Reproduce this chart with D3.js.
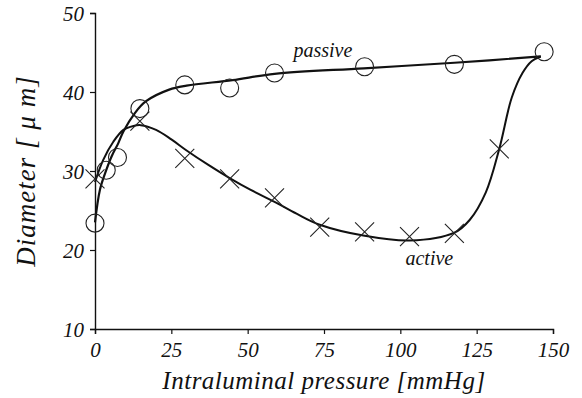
<!DOCTYPE html>
<html>
<head>
<meta charset="utf-8">
<script src="https://cdn.jsdelivr.net/npm/d3@7"></script>
<style>
  body { margin: 0; background: #fff; }
  svg text { font-family: "Liberation Serif", "Times New Roman", serif; font-style: italic; fill: #111; }
</style>
</head>
<body>
<svg id="chart-diameter" width="582" height="398"></svg>
<script>
// measured pressures (mmHg) and vessel diameters (um)
var passiveP = [0, 3.68, 7.36, 14.7, 29.4, 44.1, 58.8, 88.3, 117.7, 147.1];
var passiveD = [23.4, 30.1, 31.7, 37.9, 40.9, 40.5, 42.4, 43.2, 43.5, 45.1];
var activeP = [0, 14.7, 29.4, 44.1, 58.8, 73.6, 88.3, 103, 117.7, 132.4];
var activeD = [29.0, 36.3, 31.6, 29.0, 26.6, 22.9, 22.3, 21.7, 22.1, 32.8];

// fitted curves
var passiveFitP = [0, 1.6, 3.3, 5.5, 7.6, 9.3, 13, 16.6, 24.3, 30, 45, 58.8, 88, 117.7, 146];
var passiveFitD = [23.5, 27.6, 29.7, 31.9, 33.5, 35, 37.3, 38.8, 40.3, 40.8, 41.5, 42.3, 43.0, 43.7, 44.5];
var activeFitP = [0, 2.7, 6, 9.3, 12.6, 15, 20, 25, 30, 37, 44.1, 51, 58.8, 66, 73.6, 88.3, 103, 117.7, 122.7, 128, 132.4, 136.5, 140, 143, 146];
var activeFitD = [28.6, 31.4, 33.7, 35.2, 35.7, 35.8, 35.2, 34.0, 32.6, 30.8, 29.1, 27.6, 26.1, 24.6, 23.2, 21.8, 21.2, 22.2, 23.8, 27.3, 32.8, 39.3, 42.4, 43.9, 44.5];

var xTicks = [0, 25, 50, 75, 100, 125, 150];
var yTicks = [10, 20, 30, 40, 50];

(function diameter() {
    var svg = d3.select("#chart-diameter"),
        margin = {top: 13, right: 29, bottom: 69, left: 95},
        width = +svg.attr("width") - margin.left - margin.right,
        height = +svg.attr("height") - margin.top - margin.bottom,
        g = svg.append("g").attr("transform", "translate(" + margin.left + "," + margin.top + ")");

    var x = d3.scaleLinear().domain([0, 150]).range([0, width]);
    var y = d3.scaleLinear().domain([10, 50]).range([height, 0]);

    var line = d3.line()
        .x(function(d) { return x(d[0]); })
        .y(function(d) { return y(d[1]); })
        .curve(d3.curveCatmullRom.alpha(0.5));

    var xAxis = g.append("g")
        .attr("transform", "translate(0," + height + ")")
        .call(d3.axisBottom(x).tickValues(xTicks).tickSizeOuter(0).tickSize(5).tickPadding(8));

    var yAxis = g.append("g")
        .call(d3.axisLeft(y).tickValues(yTicks).tickSizeOuter(0).tickSize(5).tickPadding(6));

    [xAxis, yAxis].forEach(function(a) {
        a.select(".domain").attr("stroke", "#111").attr("stroke-width", 1.4);
        a.selectAll(".tick line").attr("stroke", "#111").attr("stroke-width", 1.2);
        a.selectAll("text")
            .attr("font-family", null)
            .style("font-size", "21px");
    });
    yAxis.selectAll("text").attr("dy", "0.36em");

    var passiveFit = d3.zip(passiveFitP, passiveFitD),
        activeFit = d3.zip(activeFitP, activeFitD);

    g.append("path")
        .datum(activeFit)
        .attr("fill", "none")
        .attr("stroke", "#111")
        .attr("stroke-width", 2)
        .attr("d", line);

    g.append("path")
        .datum(passiveFit)
        .attr("fill", "none")
        .attr("stroke", "#111")
        .attr("stroke-width", 2.2)
        .attr("d", line);

    // passive: open circles
    g.selectAll(".passive")
        .data(d3.zip(passiveP, passiveD))
        .enter().append("circle")
        .attr("class", "passive")
        .attr("cx", function(d) { return x(d[0]); })
        .attr("cy", function(d) { return y(d[1]); })
        .attr("r", 9)
        .attr("fill", "none")
        .attr("stroke", "#222")
        .attr("stroke-width", 1.1);

    // active: crosses
    var s = 9.5;
    g.selectAll(".active")
        .data(d3.zip(activeP, activeD))
        .enter().append("path")
        .attr("class", "active")
        .attr("d", function(d) {
            var cx = x(d[0]), cy = y(d[1]);
            return "M" + (cx - s) + "," + (cy - s) + "L" + (cx + s) + "," + (cy + s) +
                   "M" + (cx - s) + "," + (cy + s) + "L" + (cx + s) + "," + (cy - s);
        })
        .attr("fill", "none")
        .attr("stroke", "#222")
        .attr("stroke-width", 1.1);

    g.append("text")
        .attr("x", x(65))
        .attr("y", y(44.4))
        .style("font-size", "20px")
        .text("passive");

    g.append("text")
        .attr("x", x(109.5))
        .attr("y", y(18.1))
        .attr("text-anchor", "middle")
        .style("font-size", "20px")
        .text("active");

    g.append("text")
        .attr("x", width / 2)
        .attr("y", height + 60)
        .attr("text-anchor", "middle")
        .style("font-size", "25px")
        .style("letter-spacing", "0.5px")
        .text("Intraluminal pressure [mmHg]");

    g.append("text")
        .attr("transform", "translate(" + (-60) + "," + (height / 2) + ") rotate(-90)")
        .attr("text-anchor", "middle")
        .style("font-size", "27px")
        .style("letter-spacing", "1px")
        .text("Diameter [ \u03bc m]");
})();
</script>
</body>
</html>
